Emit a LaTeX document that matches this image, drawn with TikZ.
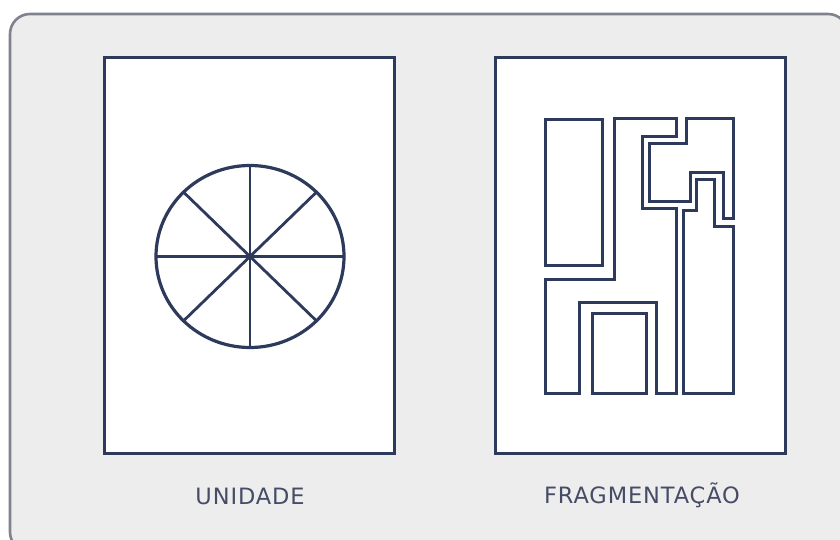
\documentclass[tikz,border=0pt]{standalone}
\usepackage{fontspec}
\usetikzlibrary{calc}
\setmainfont{DejaVu Sans}
\newfontfamily\labelfont[LetterSpace=4]{DejaVu Sans}
\definecolor{ink}{HTML}{2E3A5C}
\definecolor{frameline}{HTML}{80838E}
\definecolor{bgfill}{HTML}{EDEDED}
\definecolor{labelcol}{HTML}{454C66}
\begin{document}
\begin{tikzpicture}[x=1pt,y=-1pt,
  panel/.style={draw=ink, line width=3pt, fill=white, minimum width=290pt, minimum height=395pt, inner sep=0pt},
  shapeline/.style={draw=ink, line width=3pt, line join=miter},
  caption/.style={font=\labelfont\fontsize{22.5pt}{26pt}\selectfont, text=labelcol, anchor=base, inner sep=0pt}]
\useasboundingbox (0,0) rectangle (840,540);
\draw[draw=frameline, line width=2.6pt, fill=bgfill, rounded corners=20pt] (10,14) rectangle (848,552);
\node[panel] (unidade) at (249.5,255.5) {};
\node[panel] (frag) at (640,255.5) {};
% circle with spokes
\coordinate (c) at (250,256.5);
\draw[shapeline, line width=3.2pt] (c) ellipse [x radius=94, y radius=91];
\foreach \a in {0,45,...,315} {
  \draw[shapeline, line width=2.8pt] (c) -- ($(c)+({94*cos(\a)},{91*sin(\a)})$);
}
% fragmentation shapes
\draw[shapeline] (545,119.3) rectangle (602.7,265);
\draw[shapeline] (545,393.3) -- (545,279) -- (614.3,279) -- (614.3,118.3) -- (676.7,118.3) -- (676.7,136.7) -- (642.7,136.7) -- (642.7,208.3) -- (676.7,208.3) -- (676.7,393.3) -- (656.7,393.3) -- (656.7,302.3) -- (579.3,302.3) -- (579.3,393.3) -- cycle;
\draw[shapeline] (686.7,118.3) -- (733.3,118.3) -- (733.3,218.3) -- (723.3,218.3) -- (723.3,172.7) -- (690,172.7) -- (690,201.7) -- (649.3,201.7) -- (649.3,143.3) -- (686.7,143.3) -- cycle;
\draw[shapeline] (683.3,393.3) -- (683.3,210) -- (696.7,210) -- (696.7,180) -- (714.3,180) -- (714.3,226.7) -- (733.3,226.7) -- (733.3,393.3) -- cycle;
\draw[shapeline] (592.7,313.3) rectangle (646,393.3);
% labels
\node[caption] (lab1) at (250,504) {UNIDADE};
\node[caption] (lab2) at (642,503) {FRAGMENTAÇÃO};
\end{tikzpicture}
\end{document}
